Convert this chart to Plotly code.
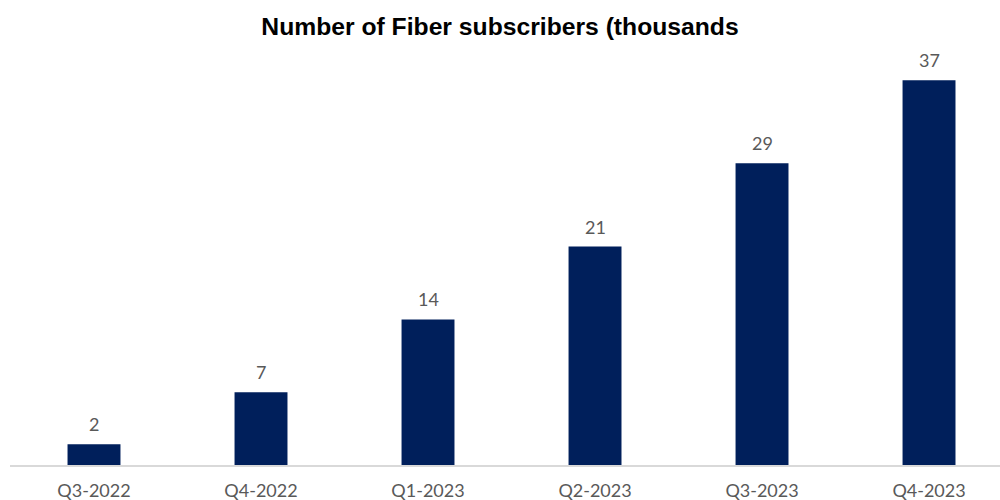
import plotly.graph_objects as go

categories = ["Q3-2022", "Q4-2022", "Q1-2023", "Q2-2023", "Q3-2023", "Q4-2023"]
subscribers = [2, 7, 14, 21, 29, 37]
title_text = "Number of Fiber subscribers (thousands"

fig = go.Figure(
    go.Bar(
        x=categories,
        y=subscribers,
        marker=dict(color="#001f5b", line=dict(width=0)),
        width=0.317,
        cliponaxis=False,
    )
)

for c, v in zip(categories, subscribers):
    fig.add_annotation(
        x=c, y=v, xref="x", yref="y",
        text=str(v), showarrow=False,
        yanchor="bottom", yshift=7,
        font=dict(family="Lato", size=18, color="#595959"),
    )

fig.update_layout(
    width=1000,
    height=500,
    margin=dict(l=10, r=0, t=50, b=35),
    paper_bgcolor="white",
    plot_bgcolor="white",
    showlegend=False,
    title=dict(
        text="<b>" + title_text + "</b>",
        x=0.5,
        xanchor="center",
        y=0.947,
        yanchor="middle",
        font=dict(family="Liberation Sans", size=24.7, color="black"),
    ),
    xaxis=dict(
        range=[-0.503, 5.425],
        automargin=False,
        showline=True,
        linecolor="#d9d9d9",
        linewidth=1.5,
        showgrid=False,
        ticks="outside",
        ticklen=9,
        tickcolor="rgba(0,0,0,0)",
        tickfont=dict(family="Lato", size=18, color="#595959"),
    ),
    yaxis=dict(
        range=[0, 39.9],
        visible=False,
        showgrid=False,
        zeroline=False,
    ),
)

fig.write_html("out.html")
